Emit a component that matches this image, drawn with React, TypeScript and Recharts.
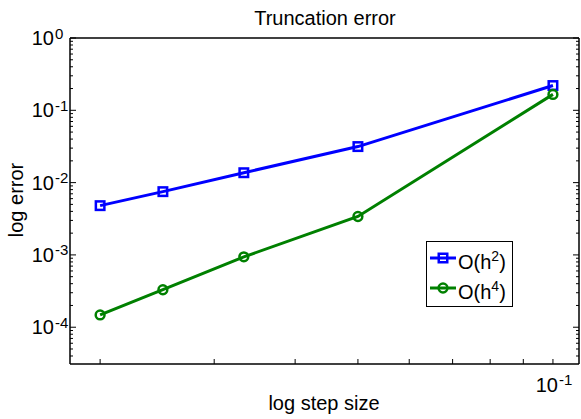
import { LineChart, Line, XAxis, YAxis, Legend } from 'recharts'

// step sizes h and the two error series
const stepSizes = [0.02, 0.025, 1 / 30, 0.05, 0.1]
const errorH2 = [4.8e-3, 7.5e-3, 0.0137, 0.0315, 0.22]
const errorH4 = [1.48e-4, 3.3e-4, 9.4e-4, 3.4e-3, 0.166]

const xTicks = [0.02, 0.03, 0.04, 0.05, 0.06, 0.07, 0.08, 0.09, 0.1]
const yTicks = [
  4e-5, 5e-5, 6e-5, 7e-5, 8e-5, 9e-5,
  1e-4, 2e-4, 3e-4, 4e-4, 5e-4, 6e-4, 7e-4, 8e-4, 9e-4,
  1e-3, 2e-3, 3e-3, 4e-3, 5e-3, 6e-3, 7e-3, 8e-3, 9e-3,
  1e-2, 2e-2, 3e-2, 4e-2, 5e-2, 6e-2, 7e-2, 8e-2, 9e-2,
  1e-1, 2e-1, 3e-1, 4e-1, 5e-1, 6e-1, 7e-1, 8e-1, 9e-1, 1,
]

const legendItems = [
  { key: 'o2', power: '2', color: '#0000ff', marker: 'square' },
  { key: 'o4', power: '4', color: '#008000', marker: 'circle' },
]

const data = stepSizes.map((h, i) => ({ h, o2: errorH2[i], o4: errorH4[i] }))

const FONT = 'Liberation Sans, Arial, sans-serif'

function decade(v: number) {
  const e = Math.round(Math.log10(v))
  return { e, major: Math.abs(Math.log10(v) - e) < 1e-6 }
}

function LeftTick(props: any) {
  const { x, y, payload } = props
  const { e, major } = decade(payload.value)
  return (
    <g>
      <line x1={x} x2={x + (major ? 6 : 3)} y1={y} y2={y} stroke="#000" />
      {major && (
        <g fontFamily={FONT} fill="#000">
          <text x={x - 16} y={y + 7} textAnchor="end" fontSize={20}>10</text>
          <text x={x - 15} y={y + 0.5} fontSize={15}>{e}</text>
        </g>
      )}
    </g>
  )
}

function RightTick(props: any) {
  const { x, y, payload } = props
  const { major } = decade(payload.value)
  return <line x1={x} x2={x - (major ? 6 : 3)} y1={y} y2={y} stroke="#000" />
}

function BottomTick(props: any) {
  const { x, y, payload } = props
  const { e, major } = decade(payload.value)
  return (
    <g>
      <line x1={x} x2={x} y1={y} y2={y - 5} stroke="#000" />
      {major && (
        <g fontFamily={FONT} fill="#000">
          <text x={x + 5} y={y + 28} textAnchor="end" fontSize={20}>10</text>
          <text x={x + 6} y={y + 21} fontSize={15}>{e}</text>
        </g>
      )}
    </g>
  )
}

function TopTick(props: any) {
  const { x, y } = props
  return <line x1={x} x2={x} y1={y} y2={y + 5} stroke="#000" />
}

function SquareDot(props: any) {
  const { cx, cy, key } = props
  return <rect key={key} x={cx - 4.25} y={cy - 4.25} width={8.5} height={8.5} fill="none" stroke="#0000ff" strokeWidth={2.5} />
}

function CircleDot(props: any) {
  const { cx, cy, key } = props
  return <circle key={key} cx={cx} cy={cy} r={4.4} fill="none" stroke="#008000" strokeWidth={2.5} />
}

function LegendBox() {
  return (
    <div style={{ width: 87, height: 66, boxSizing: 'border-box', border: '1.5px solid #000', background: '#fff' }}>
      <svg width={87} height={66} style={{ position: 'absolute', left: 0, top: 0 }}>
        {legendItems.map((item, i) => {
          const cy = 17 + i * 30
          return (
            <g key={item.key}>
              <line x1={4} x2={30} y1={cy} y2={cy} stroke={item.color} strokeWidth={3} />
              {item.marker === 'square' ? (
                <rect x={12.75} y={cy - 4.25} width={8.5} height={8.5} fill="none" stroke={item.color} strokeWidth={2.5} />
              ) : (
                <circle cx={17} cy={cy} r={4.4} fill="none" stroke={item.color} strokeWidth={2.5} />
              )}
              <text x={32} y={cy + 11} fontSize={20} fontFamily={FONT} fill="#000">
                O(h
                <tspan dy={-8} fontSize={14}>{item.power}</tspan>
                <tspan dy={8}>)</tspan>
              </text>
            </g>
          )
        })}
      </svg>
    </div>
  )
}

export default function App() {
  return (
    <div style={{ position: 'absolute', left: 0, top: 0, width: 581, height: 419, background: '#fff' }}>
      <LineChart width={581} height={419} data={data} margin={{ top: 37, right: 1, bottom: 54, left: 69 }}>
        <XAxis
          xAxisId="bottom"
          dataKey="h"
          type="number"
          scale="log"
          domain={[0.01797, 0.1097]}
          allowDataOverflow
          ticks={xTicks}
          interval={0}
          height={1}
          tickSize={0}
          tickMargin={0}
          tickLine={false}
          tick={BottomTick}
          axisLine={{ stroke: '#000', strokeWidth: 1.5 }}
        />
        <XAxis
          xAxisId="top"
          orientation="top"
          type="number"
          scale="log"
          domain={[0.01797, 0.1097]}
          allowDataOverflow
          ticks={xTicks}
          interval={0}
          height={1}
          tickSize={0}
          tickMargin={0}
          tickLine={false}
          tick={TopTick}
          axisLine={{ stroke: '#000', strokeWidth: 1.5 }}
        />
        <YAxis
          yAxisId="left"
          type="number"
          scale="log"
          domain={[3.1e-5, 1]}
          allowDataOverflow
          ticks={yTicks}
          interval={0}
          width={1}
          tickSize={0}
          tickMargin={0}
          tickLine={false}
          tick={LeftTick}
          axisLine={{ stroke: '#000', strokeWidth: 1.5 }}
        />
        <YAxis
          yAxisId="right"
          orientation="right"
          type="number"
          scale="log"
          domain={[3.1e-5, 1]}
          allowDataOverflow
          ticks={yTicks}
          interval={0}
          width={1}
          tickSize={0}
          tickMargin={0}
          tickLine={false}
          tick={RightTick}
          axisLine={{ stroke: '#000', strokeWidth: 1.5 }}
        />
        <Line
          xAxisId="bottom"
          yAxisId="left"
          dataKey="o2"
          stroke="#0000ff"
          strokeWidth={3}
          dot={SquareDot}
          activeDot={false}
          isAnimationActive={false}
        />
        <Line
          xAxisId="bottom"
          yAxisId="left"
          dataKey="o4"
          stroke="#008000"
          strokeWidth={3}
          dot={CircleDot}
          activeDot={false}
          isAnimationActive={false}
        />
        <Legend
          layout="vertical"
          align="center"
          verticalAlign="middle"
          content={LegendBox}
          wrapperStyle={{ position: 'absolute', left: 426, top: 241, width: 87, height: 66 }}
        />
      </LineChart>
      <svg width={581} height={419} style={{ position: 'absolute', left: 0, top: 0, pointerEvents: 'none' }}>
        <text x={325} y={25} textAnchor="middle" fontSize={20} fontFamily={FONT} fill="#000">
          Truncation error
        </text>
        <text x={324} y={410} textAnchor="middle" fontSize={20} fontFamily={FONT} fill="#000">
          log step size
        </text>
        <text x={23} y={200} textAnchor="middle" fontSize={20} fontFamily={FONT} fill="#000" transform="rotate(-90 23 200)">
          log error
        </text>
      </svg>
    </div>
  )
}
